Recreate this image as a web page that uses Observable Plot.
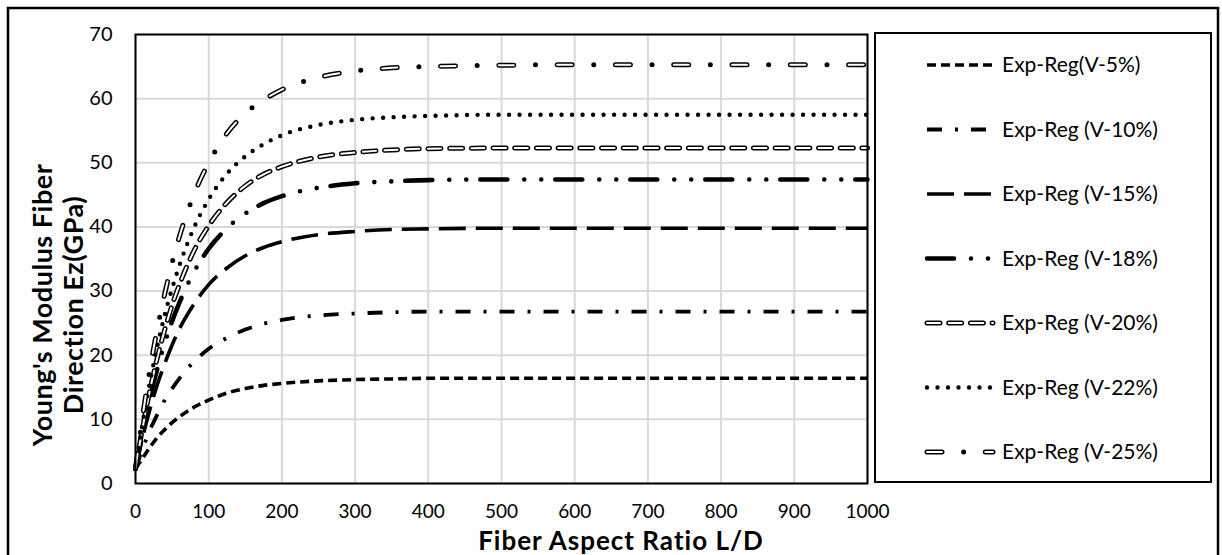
<!DOCTYPE html>
<html><head><meta charset="utf-8">
<script src="https://cdn.jsdelivr.net/npm/d3@7"></script>
<script src="https://cdn.jsdelivr.net/npm/@observablehq/plot@0.6"></script>
<style>
body{margin:0;background:#fff}
#wrap{position:relative;width:1222px;height:555px;font-family:Lato,"Open Sans",sans-serif}
</style>
</head><body><div id="wrap"></div>
<script>
// Fiber aspect ratio L/D
const xs = [0,10,20,30,40,50,60,80,100,125,150,175,200,250,300,350,400,500,600,700,800,900,1000];
// Young's modulus Ez (GPa)
const v5  = [2.3,4.0,5.7,7.2,8.4,9.5,10.4,11.9,13.0,14.1,14.8,15.3,15.6,16.0,16.2,16.3,16.4,16.4,16.4,16.4,16.4,16.4,16.4];
const v10 = [2.3,5.5,8.4,10.8,13.0,14.8,16.4,19.0,21.0,22.7,24.0,24.9,25.5,26.2,26.5,26.7,26.8,26.8,26.8,26.8,26.8,26.8,26.8];
const v15 = [2.3,7.3,11.7,15.5,18.7,21.6,24.1,28.0,31.0,33.6,35.5,36.8,37.7,38.8,39.3,39.6,39.7,39.8,39.8,39.8,39.8,39.8,39.8];
const v18 = [2.3,8.3,13.5,18.0,21.9,25.3,28.2,33.0,36.6,39.8,42.1,43.7,44.8,46.1,46.8,47.1,47.3,47.4,47.4,47.4,47.4,47.4,47.4];
const v20 = [2.3,8.9,14.7,19.7,24.0,27.8,31.0,36.3,40.2,43.8,46.4,48.2,49.4,50.9,51.6,52.0,52.2,52.3,52.3,52.3,52.3,52.3,52.3];
const v22 = [2.3,9.6,16.0,21.5,26.3,30.4,34.0,39.9,44.3,48.3,51.0,52.9,54.3,55.9,56.7,57.1,57.3,57.5,57.5,57.5,57.5,57.5,57.5];
const v25 = [2.3,10.7,18.0,24.2,29.6,34.4,38.5,45.1,50.0,54.6,57.7,59.8,61.4,63.3,64.3,64.8,65.0,65.2,65.3,65.3,65.3,65.3,65.3];
const seriesNames = ["Exp-Reg(V-5%)","Exp-Reg (V-10%)","Exp-Reg (V-15%)","Exp-Reg (V-18%)","Exp-Reg (V-20%)","Exp-Reg (V-22%)","Exp-Reg (V-25%)"];
const xTicks = [0,100,200,300,400,500,600,700,800,900,1000];
const yTicks = [0,10,20,30,40,50,60,70];
const xTitle = "Fiber Aspect Ratio L/D";
const yTitle = ["Young's Modulus Fiber","Direction Ez(GPa)"];

const allValues = [v5,v10,v15,v18,v20,v22,v25];
const styles = [
  {outer:{stroke:"#000",strokeWidth:3.6,strokeDasharray:"9,5",strokeLinecap:"butt"}},
  {outer:{stroke:"#000",strokeWidth:3.8,strokeDasharray:"15,13,3,13",strokeLinecap:"butt"}},
  {outer:{stroke:"#000",strokeWidth:3.6,strokeDasharray:"27,10",strokeLinecap:"butt"}},
  {outer:{stroke:"#000",strokeWidth:4.6,strokeDasharray:"27,17,0,17,0,14",strokeLinecap:"round"}},
  {outer:{stroke:"#000",strokeWidth:5,strokeDasharray:"13,8.7",strokeLinecap:"round"},
   inner:{stroke:"#fff",strokeWidth:2,strokeDasharray:"13,8.7",strokeLinecap:"round"}},
  {outer:{stroke:"#000",strokeWidth:4.4,strokeDasharray:"0,10.5",strokeLinecap:"round"}},
  {outer:{stroke:"#000",strokeWidth:5,strokeDasharray:"15,21.65,0,21.65",strokeLinecap:"round"},
   inner:{stroke:"#fff",strokeWidth:2,strokeDasharray:"15,43.3",strokeLinecap:"round"}}
];

const rows = [];
allValues.forEach((vals, s) => vals.forEach((v, i) => rows.push({series: seriesNames[s], x: xs[i], y: v})));

const lineMarks = [];
seriesNames.forEach((name, s) => {
  const data = rows.filter(d => d.series === name);
  lineMarks.push(Plot.line(data, {x:"x", y:"y", curve:"monotone-x", ...styles[s].outer}));
  if (styles[s].inner) lineMarks.push(Plot.line(data, {x:"x", y:"y", curve:"monotone-x", ...styles[s].inner}));
});

const W = 1222, H = 555;
const chart = Plot.plot({
  width: W, height: H,
  marginLeft: 135, marginTop: 34, marginRight: W - 867, marginBottom: H - 483,
  style: {fontFamily: "Lato, sans-serif", fontSize: "20px", color: "#000", background: "#fff"},
  x: {domain: [0, 1000]},
  y: {domain: [0, 70]},
  marks: [
    Plot.gridX(xTicks, {stroke: "#d9d9d9", strokeOpacity: 1, strokeWidth: 2}),
    Plot.gridY(yTicks, {stroke: "#d9d9d9", strokeOpacity: 1, strokeWidth: 2}),
    ...lineMarks,
    Plot.frame({stroke: "#000", strokeWidth: 2}),
    Plot.axisX(xTicks, {tickSize: 0, tickPadding: 21, label: null, fontSize: 19, tickFormat: d => String(d)}),
    Plot.axisY(yTicks, {tickSize: 0, tickPadding: 23, label: null, fontSize: 20, tickFormat: d => String(d)})
  ]
});
document.getElementById("wrap").appendChild(chart);

// Decorations: outer border (bottom edge lies just past the canvas), axis titles, legend
const svg = d3.select(chart);
svg.append("rect").attr("x", 8).attr("y", 8).attr("width", 1210).attr("height", 552)
  .attr("fill", "none").attr("stroke", "#000").attr("stroke-width", 2.5);

svg.append("text").attr("x", 621).attr("y", 550).attr("text-anchor", "middle")
  .attr("font-family", "Lato, sans-serif").attr("font-weight", "bold").attr("font-size", 26)
  .attr("letter-spacing", "1px").text(xTitle);
[52, 83].forEach((bx, i) => {
  svg.append("text").attr("transform", `translate(${bx},305) rotate(-90)`).attr("text-anchor", "middle")
    .attr("font-family", "Lato, sans-serif").attr("font-weight", "bold").attr("font-size", 27)
    .attr("letter-spacing", "0.5px").text(yTitle[i]);
});

const lg = svg.append("g");
lg.append("rect").attr("x", 875).attr("y", 33).attr("width", 336).attr("height", 449)
  .attr("fill", "#fff").attr("stroke", "#000").attr("stroke-width", 2);
seriesNames.forEach((name, s) => {
  const cy = 65 + s * 64.5;
  const layers = [styles[s].outer, styles[s].inner].filter(Boolean);
  layers.forEach(st => {
    lg.append("line").attr("x1", 927).attr("x2", 993).attr("y1", cy).attr("y2", cy)
      .attr("stroke", st.stroke).attr("stroke-width", st.strokeWidth)
      .attr("stroke-dasharray", st.strokeDasharray).attr("stroke-linecap", st.strokeLinecap);
  });
  lg.append("text").attr("x", 1002).attr("y", cy).attr("dy", "0.35em").attr("text-anchor", "start")
    .attr("font-family", "Lato, sans-serif").attr("font-size", 21).text(name);
});
</script>
</body></html>
